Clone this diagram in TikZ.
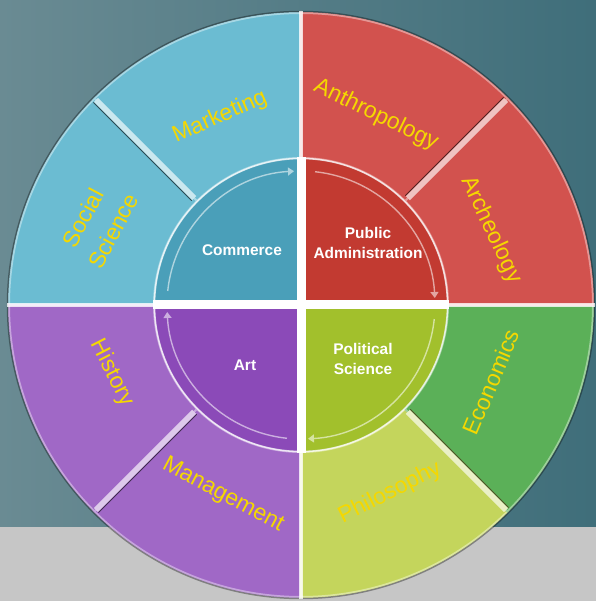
\documentclass[tikz,border=0pt]{standalone}
\usepackage{fontspec}
\setmainfont{Liberation Sans}
\usetikzlibrary{calc,arrows.meta}
\definecolor{bgteal}{HTML}{3F6E7A}
\definecolor{bgtealhi}{HTML}{6A8B93}
\definecolor{bggray}{HTML}{C6C6C6}
\definecolor{mktblue}{HTML}{6BBCD2}
\definecolor{archred}{HTML}{D2524E}
\definecolor{hisprp}{HTML}{A068C6}
\definecolor{phiyel}{HTML}{C4D55C}
\definecolor{ecogrn}{HTML}{5BB058}
\definecolor{comblue}{HTML}{4A9FB9}
\definecolor{pubred}{HTML}{C23A31}
\definecolor{artprp}{HTML}{8B4AB8}
\definecolor{polgrn}{HTML}{A2C02C}
\definecolor{lblyellow}{HTML}{F5D800}

\begin{document}
\begin{tikzpicture}[x=1bp,y=1bp,
  outlbl/.style={text=lblyellow,font=\fontsize{23}{27}\selectfont,inner sep=0pt},
  inlbl/.style={text=white,font=\bfseries\fontsize{15.5}{20}\selectfont,align=center,inner sep=0pt}]
  \useasboundingbox (-301,-296) rectangle (295,305);
  % backdrop
  \shade[left color=bgtealhi,right color=bgteal] (-301,-222) rectangle (295,305);
  \fill[bggray] (-301,-296) rectangle (295,-222);
  % outer ring, eight segments
  \foreach \a/\c in {90/mktblue,135/mktblue,180/hisprp,225/hisprp,270/phiyel,315/ecogrn,0/archred,45/archred}{
    \fill[\c,draw=\c!60!white,line width=2] (\a:292) arc[start angle=\a,end angle=\a+45,radius=292]
      -- ({\a+45}:147) arc[start angle=\a+45,end angle=\a,radius=147] -- cycle;
  }
  \draw[black,opacity=0.35,line width=1.5] (0,0) circle (293.5);
  % bevelled dividers inside each quadrant
  \foreach \a/\c in {135/mktblue,225/hisprp,315/phiyel,45/archred}{
    \draw[line width=6,\c!35!white] (\a:151) -- (\a:290);
    \draw[line width=0.8,\c!40!black] ($(\a:151)+({\a+90}:3.5)$) -- ($(\a:290)+({\a+90}:3.5)$);
  }
  % quadrant gaps, outer ring
  \begin{scope}
    \clip (0,0) circle (294);
    \fill[white,opacity=0.8] (-300,-1.8) rectangle (300,1.8);
    \fill[white,opacity=0.8] (-1.8,-300) rectangle (1.8,300);
  \end{scope}
  % inner disk, four quadrants
  \foreach \a/\c in {90/comblue,0/pubred,270/polgrn,180/artprp}{
    \fill[\c] (0,0) -- (\a:146) arc[start angle=\a,end angle=\a+90,radius=146] -- cycle;
  }
  \draw[white,opacity=0.75,line width=1.6] (0,0) circle (146.5);
  \begin{scope}
    \clip (0,0) circle (148);
    \fill[white] (-150,-4.5) rectangle (150,4.5);
    \fill[white] (-4.5,-150) rectangle (4.5,150);
  \end{scope}
  % clockwise arrows along the rim
  \foreach \a/\c in {90/comblue,0/pubred,270/polgrn,180/artprp}{
    \draw[\c!45!white,line width=1.4,-{Triangle[width=8pt,length=6pt]}]
      ({\a+84}:134) arc[start angle=\a+84,end angle=\a+3,radius=134];
  }
  % outer labels
  \node[outlbl,rotate=24] (mkt) at (-81,188) {Marketing};
  \node[outlbl,rotate=62] (soc) at (-218,87) {Social};
  \node[outlbl,rotate=62] (sci) at (-188,74) {Science};
  \node[outlbl,rotate=-26] (anth) at (75,190) {Anthropology};
  \node[outlbl,rotate=-65] (arch) at (190,75) {Archeology};
  \node[outlbl,rotate=67] (eco) at (190,-77) {Economics};
  \node[outlbl,rotate=27] (phil) at (89,-188) {Philosophy};
  \node[outlbl,rotate=-28] (mgmt) at (-78,-190) {Management};
  \node[outlbl,rotate=-63] (hist) at (-189,-68) {History};
  % inner labels
  \node[inlbl] (comm) at (-59,55) {Commerce};
  \node[inlbl] (padm) at (67,62) {Public\\Administration};
  \node[inlbl] (art) at (-56,-60) {Art};
  \node[inlbl] (polsci) at (62,-54) {Political\\Science};
\end{tikzpicture}
\end{document}
